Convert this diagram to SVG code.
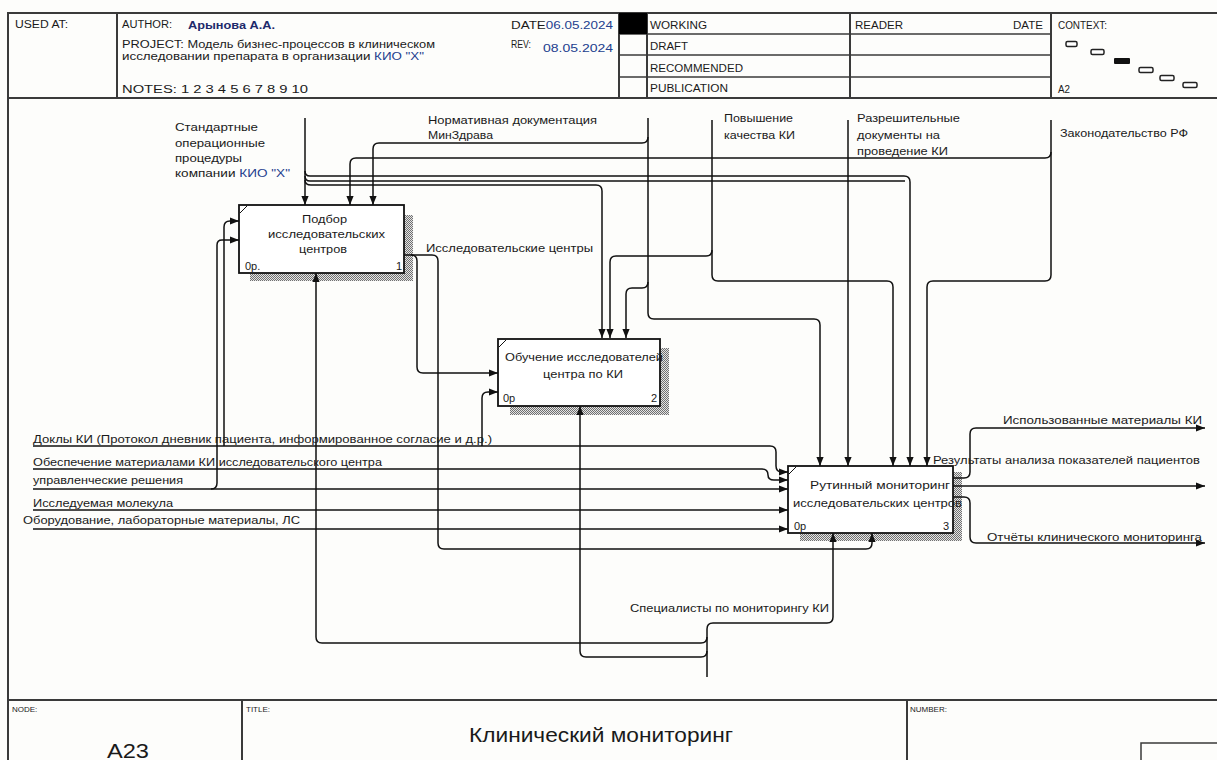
<svg xmlns="http://www.w3.org/2000/svg" width="1217" height="760" viewBox="0 0 1217 760">
<defs>
<marker id="ah" viewBox="0 0 10 8" refX="10" refY="4" markerWidth="9" markerHeight="8" markerUnits="userSpaceOnUse" orient="auto"><path d="M0,0 L10,4 L0,8 z" fill="#111"/></marker>
<pattern id="hatch" width="2" height="2" patternUnits="userSpaceOnUse"><rect width="2" height="2" fill="#e4e4e4"/><rect width="1" height="1" fill="#707070"/><rect x="1" y="1" width="1" height="1" fill="#707070"/></pattern>
<style>
.frame{stroke:#3a3a3a;stroke-width:2;fill:none}
.thin{stroke:#3a3a3a;stroke-width:1.5;fill:none}
.box{fill:#fff;stroke:#111;stroke-width:1.8}
.shadow{fill:url(#hatch)}
.conn{fill:none;stroke:#111;stroke-width:1.5}
.t{font-family:"Liberation Sans",Arial,sans-serif;font-size:11px;fill:#1a1a1a}
.h{font-family:"Liberation Sans",Arial,sans-serif;font-size:10px;fill:#1a1a1a}
.s{font-family:"Liberation Sans",Arial,sans-serif;font-size:8px;fill:#1a1a1a}
.blue{fill:#23408e}
.ctx{fill:#fff;stroke:#222;stroke-width:1.5}
</style>
</defs>
<rect width="1217" height="760" fill="#fdfdfb"/>

<g id="header">
<line class="frame" x1="8" y1="13" x2="1217" y2="13"/>
<line class="frame" x1="8" y1="98" x2="1217" y2="98"/>
<line class="frame" x1="8" y1="12" x2="8" y2="760"/>
<line class="frame" x1="117" y1="13" x2="117" y2="98"/>
<line class="frame" x1="619" y1="13" x2="619" y2="98"/>
<line class="frame" x1="647" y1="13" x2="647" y2="98"/>
<line class="frame" x1="850" y1="13" x2="850" y2="98"/>
<line class="frame" x1="1051" y1="13" x2="1051" y2="98"/>
<line class="thin" x1="619" y1="34" x2="1051" y2="34"/>
<line class="thin" x1="619" y1="55" x2="1051" y2="55"/>
<line class="thin" x1="619" y1="77" x2="1051" y2="77"/>
<rect x="619" y="13" width="28" height="21" fill="#000"/>
<text class="h" x="15" y="28" textLength="53" lengthAdjust="spacingAndGlyphs">USED AT:</text>
<text class="h" x="122" y="28" textLength="50" lengthAdjust="spacingAndGlyphs">AUTHOR:</text>
<text class="t" x="188" y="29" textLength="87" lengthAdjust="spacingAndGlyphs" style="font-size:11.5px;font-weight:bold;fill:#1d2a6b">Арынова А.А.</text>
<text class="h" x="122" y="48" textLength="313" lengthAdjust="spacingAndGlyphs">PROJECT:  Модель бизнес-процессов в клиническом</text>
<text class="h" x="122" y="60" textLength="302" lengthAdjust="spacingAndGlyphs">исследовании препарата в  организации <tspan class="blue">КИО "X"</tspan></text>
<text class="h" x="122" y="93" textLength="186" lengthAdjust="spacingAndGlyphs">NOTES:  1 2 3 4 5 6 7 8 9 10</text>
<text class="h" x="511" y="29" textLength="102" lengthAdjust="spacingAndGlyphs">DATE<tspan class="blue">06.05.2024</tspan></text>
<text class="h" x="511" y="48" textLength="20" lengthAdjust="spacingAndGlyphs">REV:</text>
<text class="h blue" x="543" y="52" textLength="70" lengthAdjust="spacingAndGlyphs">08.05.2024</text>
<text class="h" x="650" y="29" textLength="57" lengthAdjust="spacingAndGlyphs">WORKING</text>
<text class="h" x="650" y="50" textLength="38" lengthAdjust="spacingAndGlyphs">DRAFT</text>
<text class="h" x="650" y="72" textLength="93" lengthAdjust="spacingAndGlyphs">RECOMMENDED</text>
<text class="h" x="650" y="92" textLength="78" lengthAdjust="spacingAndGlyphs">PUBLICATION</text>
<text class="h" x="855" y="29" textLength="48" lengthAdjust="spacingAndGlyphs">READER</text>
<text class="h" x="1013" y="29" textLength="30" lengthAdjust="spacingAndGlyphs">DATE</text>
<text class="h" x="1058" y="29" textLength="49" lengthAdjust="spacingAndGlyphs">CONTEXT:</text>
<text class="h" x="1058" y="93" textLength="12" lengthAdjust="spacingAndGlyphs">A2</text>
<rect class="ctx" x="1066" y="41.5" width="11" height="5" rx="1.5"/>
<rect class="ctx" x="1091" y="49.5" width="13" height="5" rx="1.5"/>
<rect x="1114" y="58" width="16" height="6" rx="1" fill="#111"/>
<rect class="ctx" x="1139" y="67.5" width="14" height="5" rx="1.5"/>
<rect class="ctx" x="1160" y="75.5" width="14" height="5" rx="1.5"/>
<rect class="ctx" x="1183" y="82.5" width="14" height="5" rx="1.5"/>
</g>

<g id="footer">
<line class="frame" x1="8" y1="700" x2="1217" y2="700"/>
<line class="frame" x1="242" y1="700" x2="242" y2="760"/>
<line class="frame" x1="907" y1="700" x2="907" y2="760"/>
<rect class="thin" x="1141" y="743" width="80" height="20"/>
<text class="s" x="12" y="712">NODE:</text>
<text class="s" x="246" y="712">TITLE:</text>
<text class="s" x="910" y="712">NUMBER:</text>
<text class="t" x="107" y="758" style="font-size:21px" textLength="42" lengthAdjust="spacingAndGlyphs">A23</text>
<text class="t" x="469" y="742" style="font-size:21px" textLength="264" lengthAdjust="spacingAndGlyphs">Клинический  мониторинг</text>
</g>

<g id="node-A231">
<rect class="shadow" x="404" y="215" width="9" height="66"/>
<rect class="shadow" x="250" y="273" width="163" height="8"/>
<rect class="box" x="239" y="205" width="165" height="68"/>
<line x1="240" y1="213" x2="247" y2="206" stroke="#111" stroke-width="1"/>
<text class="t" x="302" y="223" textLength="45" lengthAdjust="spacingAndGlyphs">Подбор</text>
<text class="t" x="268" y="238" textLength="117" lengthAdjust="spacingAndGlyphs">исследовательских</text>
<text class="t" x="299" y="253" textLength="48" lengthAdjust="spacingAndGlyphs">центров</text>
<text class="t" x="245" y="270">0р.</text>
<text class="t" x="396" y="270">1</text>
</g>

<g id="node-A232">
<rect class="shadow" x="660" y="348" width="9" height="67"/>
<rect class="shadow" x="510" y="406" width="159" height="9"/>
<rect class="box" x="498" y="339" width="162" height="67"/>
<line x1="499" y1="347" x2="506" y2="340" stroke="#111" stroke-width="1"/>
<text class="t" x="505" y="361" textLength="158" lengthAdjust="spacingAndGlyphs">Обучение исследователей</text>
<text class="t" x="543" y="378" textLength="80" lengthAdjust="spacingAndGlyphs">центра по КИ</text>
<text class="t" x="503" y="402">0р</text>
<text class="t" x="651" y="402">2</text>
</g>

<g id="node-A233">
<rect class="shadow" x="953" y="472" width="9" height="69"/>
<rect class="shadow" x="800" y="533" width="162" height="8"/>
<rect class="box" x="788" y="466" width="165" height="67"/>
<line x1="789" y1="474" x2="796" y2="467" stroke="#111" stroke-width="1"/>
<text class="t" x="810" y="489" textLength="140" lengthAdjust="spacingAndGlyphs">Рутинный мониторинг</text>
<text class="t" x="793" y="507" textLength="169" lengthAdjust="spacingAndGlyphs">исследовательских центров</text>
<text class="t" x="794" y="530">0р</text>
<text class="t" x="943" y="530">3</text>
</g>

<g id="connectors">
<path class="conn" d="M305,118 V205" marker-end="url(#ah)"/>
<path class="conn" d="M305,171 Q305,176 310,176 H904 Q910,176 910,182 V466" marker-end="url(#ah)"/>
<path class="conn" d="M305,176 Q305,181 310,181 H905"/>
<path class="conn" d="M305,180 Q305,185 311,185 H596 Q602,185 602,191 V338" marker-end="url(#ah)"/>
<path class="conn" d="M648,118 V313 Q648,319 654,319 H814 Q820,319 820,325 V466" marker-end="url(#ah)"/>
<path class="conn" d="M648,137 Q648,143 642,143 H379 Q373,143 373,149 V205" marker-end="url(#ah)"/>
<path class="conn" d="M648,282 Q648,288 642,288 H632 Q626,288 626,294 V338" marker-end="url(#ah)"/>
<path class="conn" d="M712,120 V275 Q712,281 718,281 H887 Q893,281 893,287 V466" marker-end="url(#ah)"/>
<path class="conn" d="M712,250 Q712,256 706,256 H616 Q610,256 610,262 V338" marker-end="url(#ah)"/>
<path class="conn" d="M848,120 V466" marker-end="url(#ah)"/>
<path class="conn" d="M1051,120 V275 Q1051,281 1045,281 H933 Q927,281 927,287 V466" marker-end="url(#ah)"/>
<path class="conn" d="M1051,152 Q1051,158 1045,158 H356 Q350,158 350,164 V205" marker-end="url(#ah)"/>
<path class="conn" d="M33,446 H770 Q776,446 776,452 V466 Q776,472 782,472 H788" marker-end="url(#ah)"/>
<path class="conn" d="M224,446 V227 Q224,221 230,221 H239" marker-end="url(#ah)"/>
<path class="conn" d="M482,446 V398 Q482,392 488,392 H498" marker-end="url(#ah)"/>
<path class="conn" d="M33,469 H762 Q768,469 768,475 Q768,480 774,480 H788" marker-end="url(#ah)"/>
<path class="conn" d="M33,489 H788" marker-end="url(#ah)"/>
<path class="conn" d="M211,489 Q217,489 217,483 V245 Q217,240 222,240 H239" marker-end="url(#ah)"/>
<path class="conn" d="M33,510 H788" marker-end="url(#ah)"/>
<path class="conn" d="M33,529 H788" marker-end="url(#ah)"/>
<path class="conn" d="M404,255 H432 Q438,255 438,261 V543 Q438,549 444,549 H866 Q872,549 872,543 V533" marker-end="url(#ah)"/>
<path class="conn" d="M411,255 Q417,255 417,261 V367 Q417,373 423,373 H498" marker-end="url(#ah)"/>
<path class="conn" d="M707,677 V629 Q707,623 713,623 H827 Q833,623 833,617 V533" marker-end="url(#ah)"/>
<path class="conn" d="M707,637 Q707,643 701,643 H322 Q316,643 316,637 V273" marker-end="url(#ah)"/>
<path class="conn" d="M707,651 Q707,657 701,657 H586 Q580,657 580,651 V406" marker-end="url(#ah)"/>
<path class="conn" d="M953,478 H964 Q970,478 970,472 V434 Q970,428 976,428 H1205" marker-end="url(#ah)"/>
<path class="conn" d="M953,486 H1205" marker-end="url(#ah)"/>
<path class="conn" d="M953,497 H964 Q970,497 970,503 V537 Q970,543 976,543 H1205" marker-end="url(#ah)"/>
</g>

<g id="labels">
<text class="t" x="175" y="131" textLength="83" lengthAdjust="spacingAndGlyphs">Стандартные</text>
<text class="t" x="175" y="147" textLength="90" lengthAdjust="spacingAndGlyphs">операционные</text>
<text class="t" x="175" y="162" textLength="67" lengthAdjust="spacingAndGlyphs">процедуры</text>
<text class="t" x="175" y="177" textLength="115" lengthAdjust="spacingAndGlyphs">компании  <tspan class="blue">КИО "X"</tspan></text>
<text class="t" x="428" y="124" textLength="169" lengthAdjust="spacingAndGlyphs">Нормативная документация</text>
<text class="t" x="428" y="139" textLength="65" lengthAdjust="spacingAndGlyphs">МинЗдрава</text>
<text class="t" x="724" y="122" textLength="69" lengthAdjust="spacingAndGlyphs">Повышение</text>
<text class="t" x="724" y="139" textLength="71" lengthAdjust="spacingAndGlyphs">качества КИ</text>
<text class="t" x="857" y="122" textLength="103" lengthAdjust="spacingAndGlyphs">Разрешительные</text>
<text class="t" x="857" y="139" textLength="83" lengthAdjust="spacingAndGlyphs">документы на</text>
<text class="t" x="857" y="155" textLength="91" lengthAdjust="spacingAndGlyphs">проведение КИ</text>
<text class="t" x="1060" y="137" textLength="128" lengthAdjust="spacingAndGlyphs">Законодательство РФ</text>
<text class="t" x="426" y="252" textLength="167" lengthAdjust="spacingAndGlyphs">Исследовательские центры</text>
<text class="t" x="33" y="443" textLength="459" lengthAdjust="spacingAndGlyphs">Доклы КИ (Протокол  дневник пациента, информированное согласие и д.р.)</text>
<text class="t" x="33" y="466" textLength="349" lengthAdjust="spacingAndGlyphs">Обеспечение материалами КИ исследовательского центра</text>
<text class="t" x="33" y="484" textLength="150" lengthAdjust="spacingAndGlyphs">управленческие решения</text>
<text class="t" x="33" y="507" textLength="140" lengthAdjust="spacingAndGlyphs">Исследуемая молекула</text>
<text class="t" x="23" y="524" textLength="277" lengthAdjust="spacingAndGlyphs">Оборудование, лабораторные материалы, ЛС</text>
<text class="t" x="1003" y="424" textLength="199" lengthAdjust="spacingAndGlyphs">Использованные материалы КИ</text>
<text class="t" x="933" y="464" textLength="267" lengthAdjust="spacingAndGlyphs">Результаты анализа показателей пациентов</text>
<text class="t" x="987" y="541" textLength="215" lengthAdjust="spacingAndGlyphs">Отчёты клинического мониторинга</text>
<text class="t" x="630" y="612" textLength="199" lengthAdjust="spacingAndGlyphs">Специалисты по мониторингу КИ</text>
</g>
</svg>
